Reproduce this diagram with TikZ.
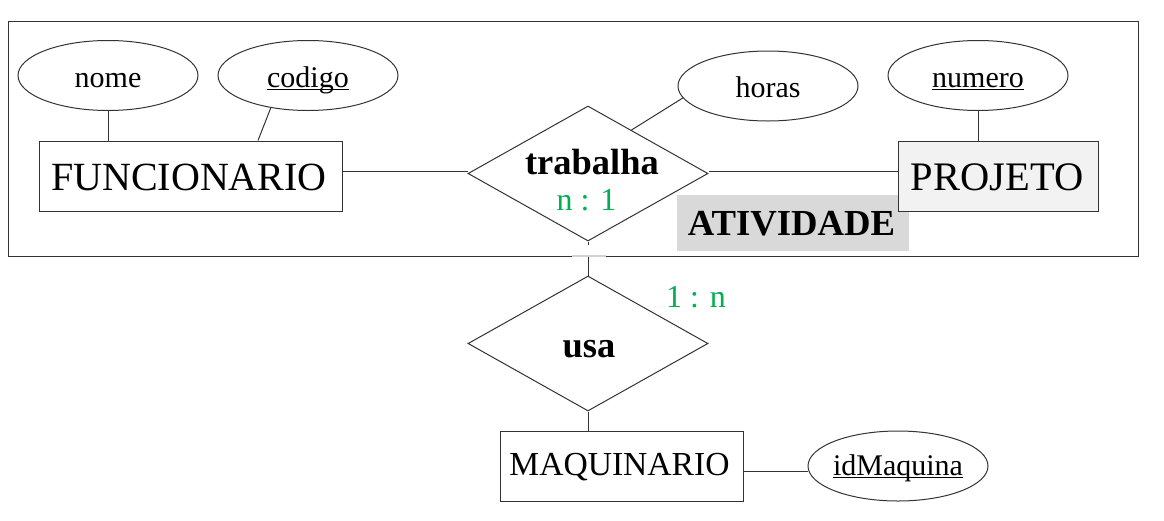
\documentclass[tikz,border=0pt]{standalone}
\usepackage{fontspec}
\setmainfont{Liberation Serif}
\usetikzlibrary{shapes.geometric}
\definecolor{linec}{HTML}{333333}
\definecolor{grn}{HTML}{00B050}
\definecolor{projfill}{HTML}{F2F2F2}
\definecolor{aggfill}{HTML}{D9D9D9}
\newcommand\myul[1]{\setbox0=\hbox{#1}\rlap{\rule[-2.6pt]{\wd0}{1.1pt}}\box0}
\begin{document}
\begin{tikzpicture}[x=1pt,y=-1pt,line width=1pt,
  attr/.style={draw=linec, ellipse, minimum width=180pt, minimum height=70pt, inner sep=0pt},
  ent/.style={draw=linec, rectangle, minimum height=70pt, inner sep=0pt},
  rel/.style={draw=linec, diamond, minimum width=240pt, minimum height=135pt, inner sep=0pt},
  conn/.style={draw=linec},
  txt/.style={anchor=base, inner sep=0pt},
  attrtxt/.style={txt, font=\fontsize{30}{36}\selectfont},
  reltxt/.style={txt, font=\fontsize{36.5}{42}\selectfont\bfseries},
  cardtxt/.style={txt, text=grn, font=\fontsize{32}{38}\selectfont}
]
\useasboundingbox (0,0) rectangle (1164,520);
% aggregation box
\node[draw=linec, minimum width=1130pt, minimum height=235pt, inner sep=0pt] (agg) at (573,138.5) {};
\draw[gray!35, line width=1.2pt] (572,256) -- (606,256);
\node[fill=aggfill, minimum width=232pt, minimum height=56pt, inner sep=0pt] (aggl) at (793,223) {};
\node[txt, font=\fontsize{36.7}{42}\selectfont\bfseries] (agglt) at (791.5,235) {ATIVIDADE};

% attributes
\node[attr] (nome) at (108,75.5) {};
\node[attr] (codigo) at (308,75.5) {};
\node[attr] (horas) at (768,86) {};
\node[attr] (numero) at (978,75.5) {};
\node[attr] (idm) at (898,466) {};

% entities
\node[ent, minimum width=303pt] (func) at (190.5,176) {};
\node[ent, minimum width=200pt, fill=projfill] (proj) at (998,176) {};
\node[ent, minimum width=243pt] (maq) at (621.5,466) {};

% relationships
\node[rel] (trab) at (588,173.5) {};
\node[rel] (usa) at (588,343.5) {};

% texts
\node[attrtxt] (tnome) at (108,87) {nome};
\node[attrtxt] (tcod) at (308,87) {\myul{codigo}};
\node[attrtxt] (thoras) at (768,97) {horas};
\node[attrtxt] (tnum) at (978,87) {\myul{numero}};
\node[attrtxt] (tidm) at (898,475.5) {\myul{idMaquina}};
\node[txt, font=\fontsize{40}{46}\selectfont] (tfunc) at (189,190) {FUNCIONARIO};
\node[txt, font=\fontsize{40.5}{46}\selectfont] (tproj) at (997,190) {PROJETO};
\node[txt, font=\fontsize{33.6}{38}\selectfont] (tmaq) at (619.5,475) {MAQUINARIO};
\node[reltxt] (ttrab) at (592,174) {trabalha};
\node[reltxt] (tusa) at (589,357) {usa};
\node[cardtxt] (c1) at (586.5,210) {n : 1};
\node[cardtxt] (c2) at (696,307) {1 : n};

% connectors
\draw[conn] (nome.south) -- (nome.south |- func.north);
\draw[conn] (codigo.221) -- ([xshift=67.5pt]func.north);
\draw[conn] (numero.south) -- (numero.south |- proj.north);
\draw[conn] (horas.188) -- (trab.45);
\draw[conn] ([yshift=5pt]func.east) -- ([yshift=2.5pt]trab.west);
\draw[conn] ([yshift=2.5pt]trab.east) -- ([yshift=5pt]proj.west);
\draw[conn] (trab.south) -- ++(0,3);
\draw[conn] (usa.north |- agg.south) -- (usa.north);
\draw[conn] (usa.south) -- (usa.south |- maq.north);
\draw[conn] ([yshift=-5pt]maq.east) -- ([yshift=-5pt]idm.west);
\end{tikzpicture}
\end{document}
